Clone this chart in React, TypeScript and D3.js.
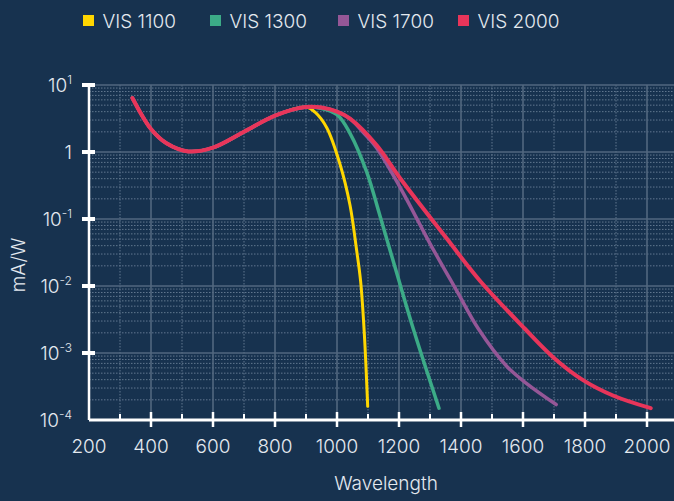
import React from 'react';
import * as d3 from 'd3';

// values (wavelength nm, mA/W)
const sharedPart: [number, number][] = [
  [340, 6.4], [400, 2.2], [450, 1.35], [520, 1.02], [600, 1.16],
  [700, 2.0], [800, 3.5], [900, 4.7],
];
const vis1100: [number, number][] = [
  [930, 3.9], [967, 2.3], [1010, 0.65], [1042, 0.16], [1063, 0.035],
  [1076, 0.012], [1088, 0.002], [1099, 0.00016],
];
const vis1300: [number, number][] = [
  [945, 4.5], [1000, 3.6], [1042, 1.9], [1096, 0.5], [1139, 0.11],
  [1192, 0.016], [1246, 0.0023], [1329, 0.00015],
];
const vis1700: [number, number][] = [
  [950, 4.6], [1000, 4.0], [1042, 3.15], [1085, 1.95], [1128, 1.15],
  [1203, 0.3], [1235, 0.16], [1300, 0.043], [1386, 0.0085], [1456, 0.0023],
  [1548, 0.00063], [1612, 0.00035], [1707, 0.00017],
];
const vis2000: [number, number][] = [
  [950, 4.6], [1000, 4.0], [1042, 3.15], [1128, 1.26], [1203, 0.41],
  [1354, 0.051], [1461, 0.012], [1606, 0.0023], [1698, 0.00086],
  [1795, 0.00039], [1892, 0.00023], [2012, 0.00015],
];

const seriesNames = ['VIS 1100', 'VIS 1300', 'VIS 1700', 'VIS 2000'];
const seriesColors = ['#ffd600', '#3cab87', '#955797', '#e8355a'];
const seriesData = [vis1100, vis1300, vis1700, vis2000];

const xTicks = [200, 400, 600, 800, 1000, 1200, 1400, 1600, 1800, 2000];
const yDecades = [-4, -3, -2, -1, 0, 1];

const W = 674;
const H = 501;
const BG = '#17324f';
const TEXT = '#e4e9ef';
const FONT = 'Inter, "Liberation Sans", sans-serif';

const x = d3.scaleLinear().domain([200, 2200]).range([89, 709]);
const y = d3.scaleLog().domain([1e-4, 10]).range([420, 85]);

const line = d3
  .line<[number, number]>()
  .x(d => x(d[0]))
  .y(d => y(d[1]))
  .curve(d3.curveCatmullRom.alpha(0.5));

const legendX = [83, 210, 338, 458];

function YLabel({ p }: { p: number }) {
  const ty = y(Math.pow(10, p));
  if (p === 0) {
    return (
      <text x={72} y={ty + 7} textAnchor="end" fill={TEXT} fontSize={19}>1</text>
    );
  }
  const sup = p === 1 ? '1' : '-' + Math.abs(p);
  return (
    <text x={72} y={ty + 7} textAnchor="end" fill={TEXT} fontSize={19}>
      10<tspan fontSize={12} dy={-8}>{sup}</tspan>
    </text>
  );
}

export default function App() {
  const [x0, x1] = x.range();
  const majorV = d3.range(400, 2201, 200);
  const minorV = d3.range(300, 2200, 200);
  const majorH = yDecades.slice(1).map(p => Math.pow(10, p));
  const minorH: number[] = [];
  yDecades.slice(0, -1).forEach(p => {
    for (let k = 2; k <= 9; k++) minorH.push(k * Math.pow(10, p));
  });

  return (
    <svg
      width={W}
      height={H}
      style={{ position: 'absolute', left: 0, top: 0, background: BG, fontFamily: FONT, fontWeight: 300 }}
    >
      <rect width={W} height={H} fill={BG} />

      {/* legend */}
      {seriesNames.map((name, i) => (
        <g key={name} transform={`translate(${legendX[i]},0)`}>
          <rect x={0} y={15} width={11} height={11} fill={seriesColors[i]} />
          <text x={19.5} y={28} fill={TEXT} fontSize={19}>{name}</text>
        </g>
      ))}

      {/* grid */}
      <g>
        {minorH.map(v => (
          <line key={'mh' + v} x1={x0} x2={W} y1={y(v)} y2={y(v)}
            stroke="#61778f" strokeWidth={1} strokeDasharray="1.5 1.5" />
        ))}
        {minorV.map(v => (
          <line key={'mv' + v} x1={x(v)} x2={x(v)} y1={y(10)} y2={y(1e-4)}
            stroke="#61778f" strokeWidth={1} strokeDasharray="1.5 1.5" />
        ))}
        {majorH.map(v => (
          <line key={'h' + v} x1={x0} x2={W} y1={y(v)} y2={y(v)}
            stroke="#52677f" strokeWidth={1.6} />
        ))}
        {majorV.map(v => (
          <line key={'v' + v} x1={x(v)} x2={x(v)} y1={y(10)} y2={y(1e-4)}
            stroke="#52677f" strokeWidth={1.6} />
        ))}
      </g>

      {/* curves */}
      {seriesData.map((d, i) => (
        <path key={seriesNames[i]} d={line(sharedPart.concat(d)) || ''} fill="none"
          stroke={seriesColors[i]} strokeWidth={i === 3 ? 4 : i === 0 ? 3 : 3.5}
          strokeLinecap="round" strokeLinejoin="round" />
      ))}

      {/* axes */}
      <line x1={x0} x2={x0} y1={y(10) - 1} y2={y(1e-4)} stroke="#ffffff" strokeWidth={2.5} />
      <line x1={x0} x2={x1} y1={y(1e-4)} y2={y(1e-4)} stroke="#ffffff" strokeWidth={3} />
      {yDecades.filter(p => p > -4).map(p => (
        <rect key={'yt' + p} x={82} y={y(Math.pow(10, p)) - 2} width={13} height={4} fill="#ffffff" />
      ))}
      {majorV.map(v => (
        <line key={'xt' + v} x1={x(v)} x2={x(v)} y1={412} y2={427} stroke="#ffffff" strokeWidth={2.5} />
      ))}
      {minorV.map(v => (
        <line key={'xm' + v} x1={x(v)} x2={x(v)} y1={414} y2={420} stroke="#ffffff" strokeWidth={2} />
      ))}

      {yDecades.map(p => <YLabel key={'yl' + p} p={p} />)}
      {xTicks.map(v => (
        <text key={'xl' + v} x={x(v)} y={453} textAnchor="middle" fill={TEXT} fontSize={19}>{v}</text>
      ))}

      <text x={386} y={490} textAnchor="middle" fill={TEXT} fontSize={19}>Wavelength</text>
      <text transform="translate(25,265) rotate(-90)" textAnchor="middle" fill={TEXT} fontSize={19}>mA/W</text>
    </svg>
  );
}
